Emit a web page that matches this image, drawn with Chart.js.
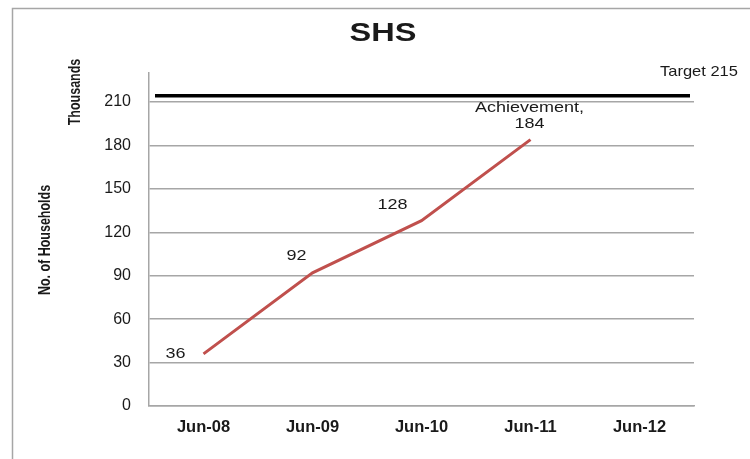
<!DOCTYPE html>
<html>
<head>
<meta charset="utf-8">
<title>SHS</title>
<script src="https://cdn.jsdelivr.net/npm/chart.js@4.4.1/dist/chart.umd.min.js"></script>
<style>
  body { margin: 0; background: #fff; }
  #caja { width: 750px; height: 459px; }
</style>
</head>
<body>
<div id="caja"><canvas id="myChart"></canvas></div>
<script>
// data (thousands of households)
const categorias = ["Jun-08", "Jun-09", "Jun-10", "Jun-11", "Jun-12"];
const logros = [36, 92, 128, 184, null];
const meta = 215;
const ticksY = [0, 30, 60, 90, 120, 150, 180, 210];
const maxY = 230;

const tituloGrafica = "SHS";
const tituloEjeY = "No. of Households";
const unidadEjeY = "Thousands";
const textoMeta = "Target";
const textoLogro = "Achievement,";

// where each data label sits relative to its point (px)
const desplazLabels = [[-28, 0], [-16, -17], [-29, -16], [-1, -24]];

const colorTexto = "#1a1a1a";
const colorGris = "#a6a6a6";
const fuente = "'Liberation Sans', Arial, sans-serif";

// the text in the original looks a bit wide, so stretch it a little
function textoAncho(ctx, texto, x, y, estira) {
  ctx.save();
  ctx.translate(x, y);
  ctx.scale(estira, 1);
  ctx.fillText(texto, 0, 0);
  ctx.restore();
}

// plugin for the frame, titles, target line and labels
const extras = {
  id: "extras",
  beforeDraw(chart) {
    const ctx = chart.ctx;
    ctx.save();
    ctx.fillStyle = "#fff";
    ctx.fillRect(0, 0, chart.width, chart.height);
    ctx.strokeStyle = colorGris;
    ctx.lineWidth = 1.5;
    ctx.strokeRect(12.5, 8.5, chart.width + 20, chart.height + 20);
    ctx.restore();
  },
  afterDatasetsDraw(chart) {
    const ctx = chart.ctx;
    const area = chart.chartArea;
    const y = chart.scales.y;

    // target line
    const yMeta = y.getPixelForValue(meta);
    ctx.save();
    ctx.strokeStyle = "#000";
    ctx.lineWidth = 3.5;
    ctx.beginPath();
    ctx.moveTo(area.left + 6, yMeta + 1);
    ctx.lineTo(area.right - 4, yMeta + 1);
    ctx.stroke();

    // data labels
    ctx.fillStyle = colorTexto;
    ctx.font = "15px " + fuente;
    ctx.textAlign = "center";
    ctx.textBaseline = "middle";
    const puntos = chart.getDatasetMeta(0).data;
    logros.forEach((v, i) => {
      if (v == null) return;
      const p = puntos[i];
      const d = desplazLabels[i];
      const lineas = i === 3 ? [textoLogro, String(v)] : [String(v)];
      const alto = 16;
      const y0 = p.y + d[1] - (lineas.length - 1) * alto / 2;
      lineas.forEach((t, k) => textoAncho(ctx, t, p.x + d[0], y0 + k * alto, 1.2));
    });

    // target text
    ctx.textAlign = "left";
    ctx.font = "15px " + fuente;
    textoAncho(ctx, textoMeta + " " + meta, area.right - 34, area.top - 1, 1.1);
    ctx.restore();
  },
  afterDraw(chart) {
    const ctx = chart.ctx;
    ctx.save();
    ctx.fillStyle = colorTexto;
    ctx.textAlign = "center";
    ctx.textBaseline = "middle";
    ctx.font = "bold 26px " + fuente;
    textoAncho(ctx, tituloGrafica, 383, 34, 1.25);

    // axis titles, bold and narrow
    ctx.font = "bold 16px " + fuente;
    ctx.save();
    ctx.translate(46, 240);
    ctx.rotate(-Math.PI / 2);
    textoAncho(ctx, tituloEjeY, 0, 0, 0.78);
    ctx.restore();
    ctx.save();
    ctx.translate(76, 92);
    ctx.rotate(-Math.PI / 2);
    textoAncho(ctx, unidadEjeY, 0, 0, 0.78);
    ctx.restore();
    ctx.restore();
  }
};

const canvas = document.getElementById("myChart").getContext("2d");

new Chart(canvas, {
  type: "line",
  data: {
    labels: categorias,
    datasets: [
      {
        label: "Achievement",
        data: logros,
        borderColor: "#c0504d",
        borderWidth: 3,
        pointRadius: 0,
        tension: 0,
      },
    ],
  },
  options: {
    responsive: true,
    maintainAspectRatio: false,
    animation: false,
    layout: { padding: { top: 73, right: 56, left: 0, bottom: 0 } },
    plugins: {
      legend: { display: false },
      tooltip: { enabled: false },
    },
    scales: {
      x: {
        offset: true,
        grid: { display: false, drawTicks: false },
        border: { display: true, color: colorGris, width: 1.5 },
        ticks: { color: colorTexto, padding: 12, font: { family: fuente, size: 16.5, weight: "bold" } },
        afterFit: (scale) => { scale.height = 53; },
      },
      y: {
        min: 0,
        max: maxY,
        afterBuildTicks: (scale) => { scale.ticks = ticksY.map((v) => ({ value: v })); },
        grid: { color: colorGris, lineWidth: 1.5, drawTicks: false },
        border: { display: true, color: colorGris, width: 1.5 },
        ticks: { color: colorTexto, padding: 18, font: { family: fuente, size: 16 } },
        afterFit: (scale) => { scale.width = 149; },
      },
    },
  },
  plugins: [extras],
});
</script>
</body>
</html>
